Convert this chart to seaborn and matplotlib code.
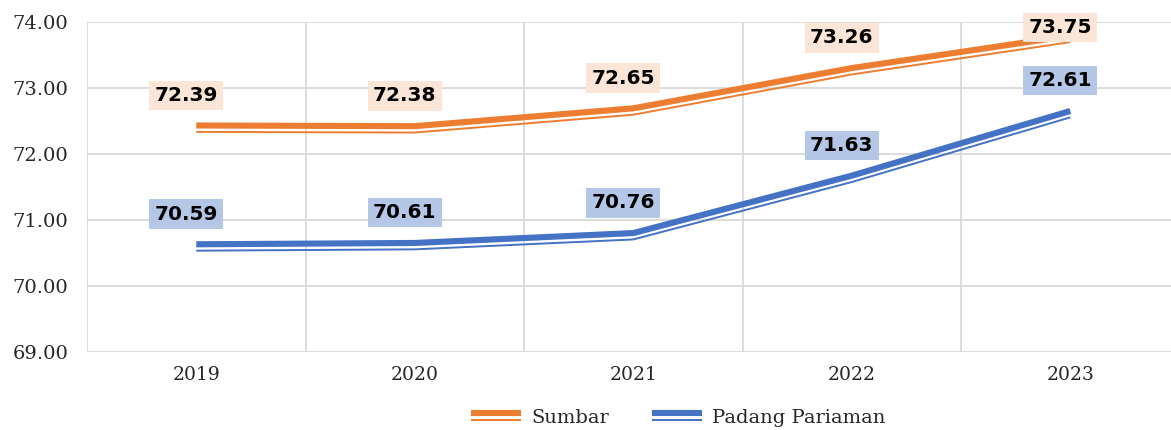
import matplotlib
matplotlib.use("Agg")
import matplotlib.pyplot as plt
import matplotlib.patheffects as pe
from matplotlib.ticker import FixedLocator
import seaborn as sns
import pandas as pd

# data
years = ["2019", "2020", "2021", "2022", "2023"]
sumbar = [72.39, 72.38, 72.65, 73.26, 73.75]
padang_pariaman = [70.59, 70.61, 70.76, 71.63, 72.61]
series_names = ["Sumbar", "Padang Pariaman"]
line_colors = ["#ED7D31", "#4472C4"]
box_colors = ["#FBE5D6", "#B4C7E7"]

df = pd.DataFrame({
    "x": list(range(len(years))) * 2,
    "value": sumbar + padang_pariaman,
    "series": [series_names[0]] * len(years) + [series_names[1]] * len(years),
})

sns.set_style("white")
plt.rcParams["font.family"] = ["DejaVu Serif"]

fig = plt.figure(figsize=(11.71, 4.30), dpi=100)
ax = fig.add_axes([0.0743, 0.1814, 0.933, 0.7674])

sns.lineplot(data=df, x="x", y="value", hue="series", palette=line_colors,
             hue_order=series_names, legend=False, ax=ax)

# double line: thick stroke above, thin stroke below
for line, c in zip(ax.lines, line_colors):
    line.set_path_effects([
        pe.Stroke(offset=(0, 2.0), linewidth=4.4, foreground=c, capstyle="butt"),
        pe.Stroke(offset=(0, -2.6), linewidth=1.4, foreground=c, capstyle="butt"),
    ])

# data labels
for vals, bc in zip([sumbar, padang_pariaman], box_colors):
    for i, v in enumerate(vals):
        ax.text(i - 0.046, min(v + 0.5, 73.92), f"{v:.2f}", ha="center", va="center",
                fontsize=14.5, fontweight="bold", family="DejaVu Sans", color="black",
                bbox=dict(boxstyle="square,pad=0.26", fc=bc, ec="none"), zorder=5)

ax.set_xlim(-0.5, len(years) - 0.5)
ax.set_ylim(69, 74)
ax.set_xticks(range(len(years)))
ax.set_xticklabels(years)
ax.xaxis.set_minor_locator(FixedLocator([i - 0.5 for i in range(len(years) + 1)]))
ax.set_yticks([69, 70, 71, 72, 73, 74])
ax.set_yticklabels([f"{t:.2f}" for t in [69, 70, 71, 72, 73, 74]])

grid_c = "#d9d9d9"
ax.grid(False)
ax.yaxis.grid(True, which="major", color=grid_c, lw=1.3)
ax.xaxis.grid(True, which="minor", color=grid_c, lw=1.3)
ax.tick_params(axis="y", which="major", length=6.5, width=1.3, color=grid_c,
               labelsize=14, labelcolor="#262626", pad=7)
ax.tick_params(axis="x", which="major", length=0, labelsize=13.5,
               labelcolor="#262626", pad=10)
ax.tick_params(axis="x", which="minor", length=3.6, width=1.3, color=grid_c)
for s in ax.spines.values():
    s.set_visible(False)
ax.set_xlabel("")
ax.set_ylabel("")

fig.legend(ax.lines[:2], series_names, loc="center", ncol=2,
           bbox_to_anchor=(678 / 1171, 1 - 418 / 430), frameon=False,
           fontsize=14, handlelength=2.6, columnspacing=2.2, handletextpad=0.5,
           labelcolor="#262626")

fig.savefig("out.png", dpi=100)
